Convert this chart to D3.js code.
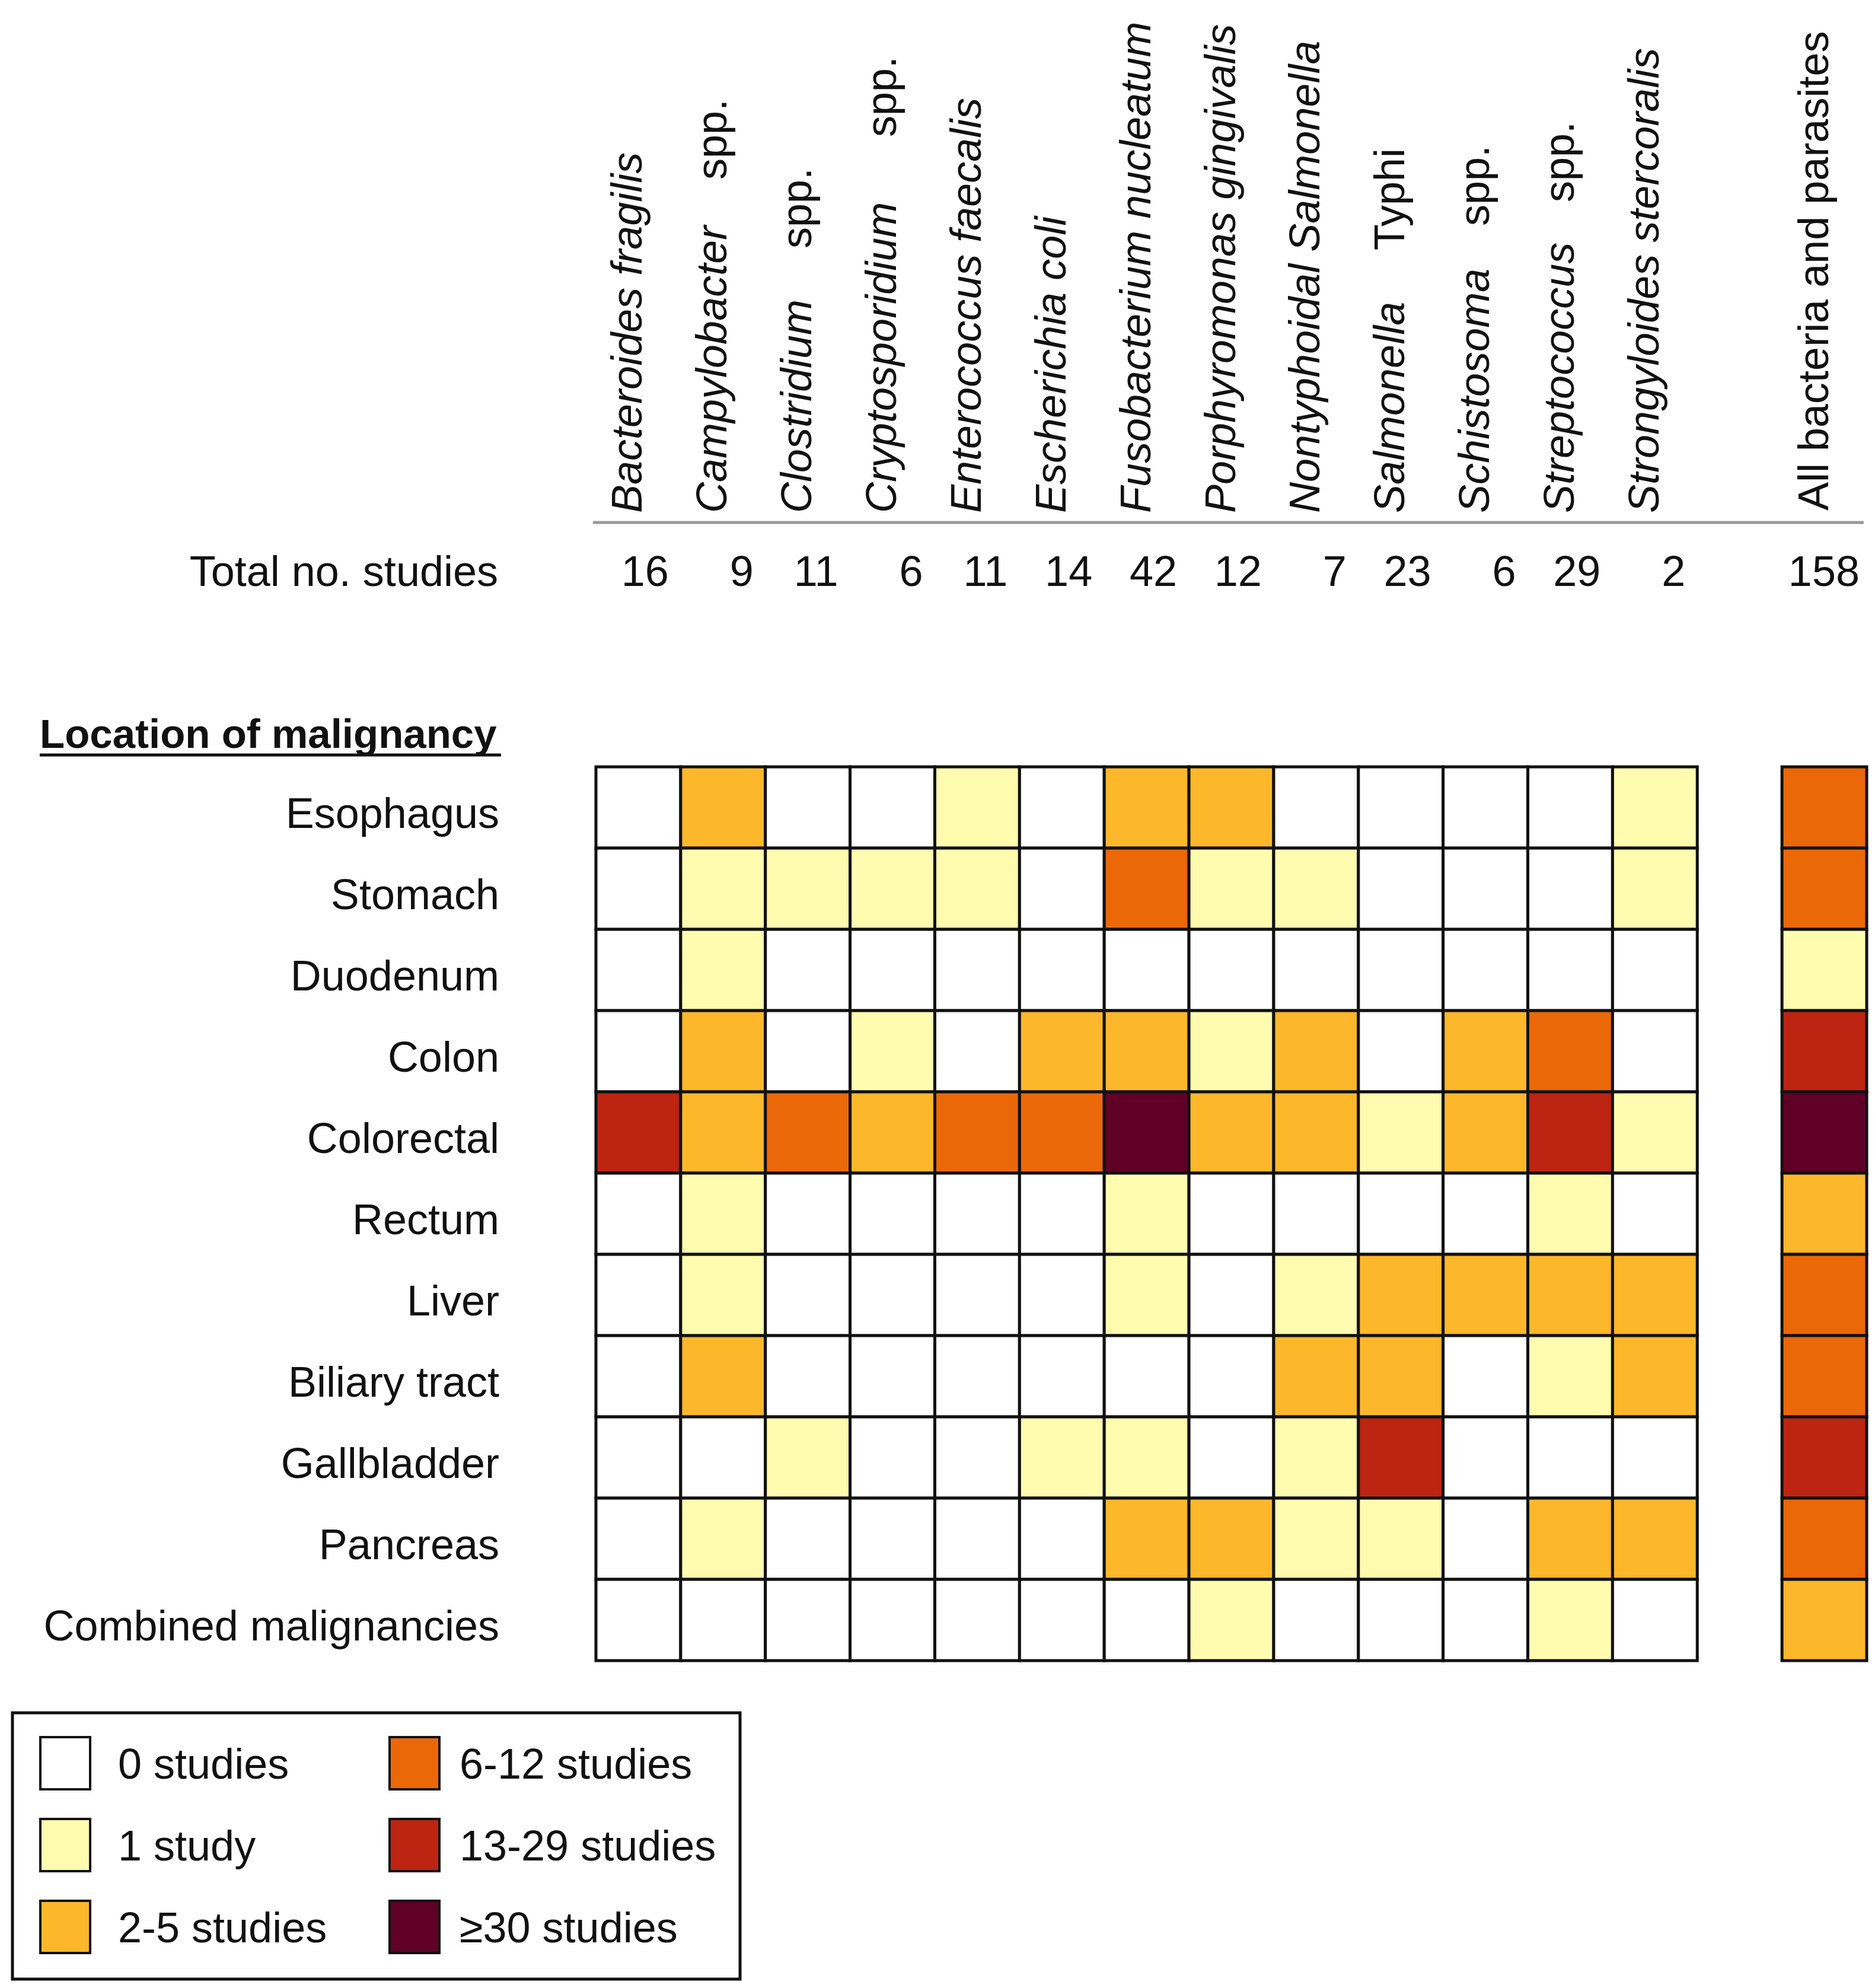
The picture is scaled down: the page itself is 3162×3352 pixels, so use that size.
<!DOCTYPE html>
<html>
<head>
<meta charset="utf-8">
<script src="https://cdn.jsdelivr.net/npm/d3@7"></script>
<style>
  body { margin: 0; background: #fff; }
  text { font-family: "Liberation Sans", Arial, sans-serif; fill: #111; }
</style>
</head>
<body>
<svg id="chart"></svg>
<script>
// organisms (columns), genus part is italic, suffix part is upright
var organismNames = ["Bacteroides fragilis", "Campylobacter", "Clostridium", "Cryptosporidium",
  "Enterococcus faecalis", "Escherichia coli", "Fusobacterium nucleatum", "Porphyromonas gingivalis",
  "Nontyphoidal Salmonella", "Salmonella", "Schistosoma", "Streptococcus", "Strongyloides stercoralis"];
var organismSuffix = ["", "spp.", "spp.", "spp.", "", "", "", "", "", "Typhi", "spp.", "spp.", ""];
var totalStudies = [16, 9, 11, 6, 11, 14, 42, 12, 7, 23, 6, 29, 2];
var allLabel = "All bacteria and parasites";
var allTotal = 158;

var locations = ["Esophagus", "Stomach", "Duodenum", "Colon", "Colorectal", "Rectum", "Liver",
  "Biliary tract", "Gallbladder", "Pancreas", "Combined malignancies"];

// level: 0 = 0 studies, 1 = 1 study, 2 = 2-5, 3 = 6-12, 4 = 13-29, 5 = >=30
var levels = [
  [0, 2, 0, 0, 1, 0, 2, 2, 0, 0, 0, 0, 1],
  [0, 1, 1, 1, 1, 0, 3, 1, 1, 0, 0, 0, 1],
  [0, 1, 0, 0, 0, 0, 0, 0, 0, 0, 0, 0, 0],
  [0, 2, 0, 1, 0, 2, 2, 1, 2, 0, 2, 3, 0],
  [4, 2, 3, 2, 3, 3, 5, 2, 2, 1, 2, 4, 1],
  [0, 1, 0, 0, 0, 0, 1, 0, 0, 0, 0, 1, 0],
  [0, 1, 0, 0, 0, 0, 1, 0, 1, 2, 2, 2, 2],
  [0, 2, 0, 0, 0, 0, 0, 0, 2, 2, 0, 1, 2],
  [0, 0, 1, 0, 0, 1, 1, 0, 1, 4, 0, 0, 0],
  [0, 1, 0, 0, 0, 0, 2, 2, 1, 1, 0, 2, 2],
  [0, 0, 0, 0, 0, 0, 0, 1, 0, 0, 0, 1, 0]
];
var allLevels = [3, 3, 1, 4, 5, 2, 3, 3, 4, 3, 2];

var legendLabels = ["0 studies", "1 study", "2-5 studies", "6-12 studies", "13-29 studies", "\u226530 studies"];
var levelColors = ["#ffffff", "#fffcb0", "#fdb72a", "#eb6809", "#bd2411", "#600027"];

// layout
var W = 3162, H = 3352;
var fs = 72;
var labelBottom = 865;
var suffixTop = {1: 167, 2: 283, 3: 95, 9: 250, 10: 245, 11: 205};

var svg = d3.select("#chart").attr("width", W).attr("height", H);
svg.append("rect").attr("width", W).attr("height", H).attr("fill", "#fff");

// 13 organism slots, one empty slot, then the "All" column
var x = d3.scaleBand().domain(d3.range(15)).range([1005, 3148]);
var y = d3.scaleBand().domain(locations).range([1293, 2800]);
var color = d3.scaleOrdinal().domain(d3.range(6)).range(levelColors);
var ALL = 14;

// column labels
var heads = svg.append("g").selectAll("g")
  .data(organismNames.map(function(n, i) { return {i: i, name: n, suffix: organismSuffix[i]}; }))
  .enter().append("g")
  .attr("transform", function(d) {
    return "translate(" + (x(d.i) + x.bandwidth() / 2 + 6) + "," + labelBottom + ") rotate(-90)";
  });
heads.append("text")
  .attr("font-size", fs)
  .attr("font-style", "italic")
  .text(function(d) { return d.name; });
heads.filter(function(d) { return d.suffix; }).append("text")
  .attr("font-size", fs)
  .attr("text-anchor", "end")
  .attr("x", function(d) { return labelBottom - suffixTop[d.i]; })
  .text(function(d) { return d.suffix; });

svg.append("text")
  .attr("transform", "translate(" + (x(ALL) + x.bandwidth() / 2 + 6) + "," + (labelBottom - 4) + ") rotate(-90)")
  .attr("font-size", fs)
  .text(allLabel);

// divider
svg.append("line")
  .attr("x1", 1000).attr("x2", 3143).attr("y1", 881).attr("y2", 881)
  .attr("stroke", "#9a9a9a").attr("stroke-width", 5);

// totals
svg.append("text").attr("x", 840).attr("y", 988).attr("text-anchor", "end")
  .attr("font-size", fs).text("Total no. studies");
svg.append("g").selectAll("text")
  .data(totalStudies)
  .enter().append("text")
  .attr("x", function(d, i) { return x(i) + x.bandwidth() - 20; })
  .attr("y", 988)
  .attr("text-anchor", "end")
  .attr("font-size", fs)
  .text(function(d) { return d; });
svg.append("text").attr("x", x(ALL) + x.bandwidth() - 12).attr("y", 988)
  .attr("text-anchor", "end").attr("font-size", fs).text(allTotal);

// section heading
svg.append("text").attr("x", 67).attr("y", 1261)
  .attr("font-size", 69).attr("font-weight", "bold").text("Location of malignancy");
svg.append("line").attr("x1", 67).attr("x2", 845).attr("y1", 1273).attr("y2", 1273)
  .attr("stroke", "#111").attr("stroke-width", 5);

// row labels
svg.append("g").selectAll("text")
  .data(locations)
  .enter().append("text")
  .attr("x", 842)
  .attr("y", function(d) { return y(d) + y.bandwidth() / 2 + 34; })
  .attr("text-anchor", "end")
  .attr("font-size", fs)
  .text(function(d) { return d; });

// cells
var cells = [];
levels.forEach(function(row, r) {
  row.forEach(function(v, c) { cells.push({loc: locations[r], col: c, v: v}); });
  cells.push({loc: locations[r], col: ALL, v: allLevels[r]});
});
svg.append("g").selectAll("rect")
  .data(cells)
  .enter().append("rect")
  .attr("x", function(d) { return x(d.col); })
  .attr("y", function(d) { return y(d.loc); })
  .attr("width", x.bandwidth())
  .attr("height", y.bandwidth())
  .attr("fill", function(d) { return color(d.v); })
  .attr("stroke", "#111")
  .attr("stroke-width", 5);

// legend
var lg = svg.append("g");
lg.append("rect").attr("x", 21).attr("y", 2888).attr("width", 1227).attr("height", 449)
  .attr("fill", "#fff").attr("stroke", "#111").attr("stroke-width", 5);
var items = lg.selectAll("g")
  .data(legendLabels)
  .enter().append("g")
  .attr("transform", function(d, i) {
    var col = Math.floor(i / 3), row = i % 3;
    return "translate(" + (col === 0 ? 68 : 657) + "," + (2929 + row * 138) + ")";
  });
items.append("rect")
  .attr("width", 84).attr("height", 88)
  .attr("fill", function(d, i) { return color(i); })
  .attr("stroke", "#111").attr("stroke-width", 4);
items.append("text")
  .attr("x", function(d, i) { return i < 3 ? 131 : 118; })
  .attr("y", 70)
  .attr("font-size", fs)
  .text(function(d) { return d; });
</script>
</body>
</html>
